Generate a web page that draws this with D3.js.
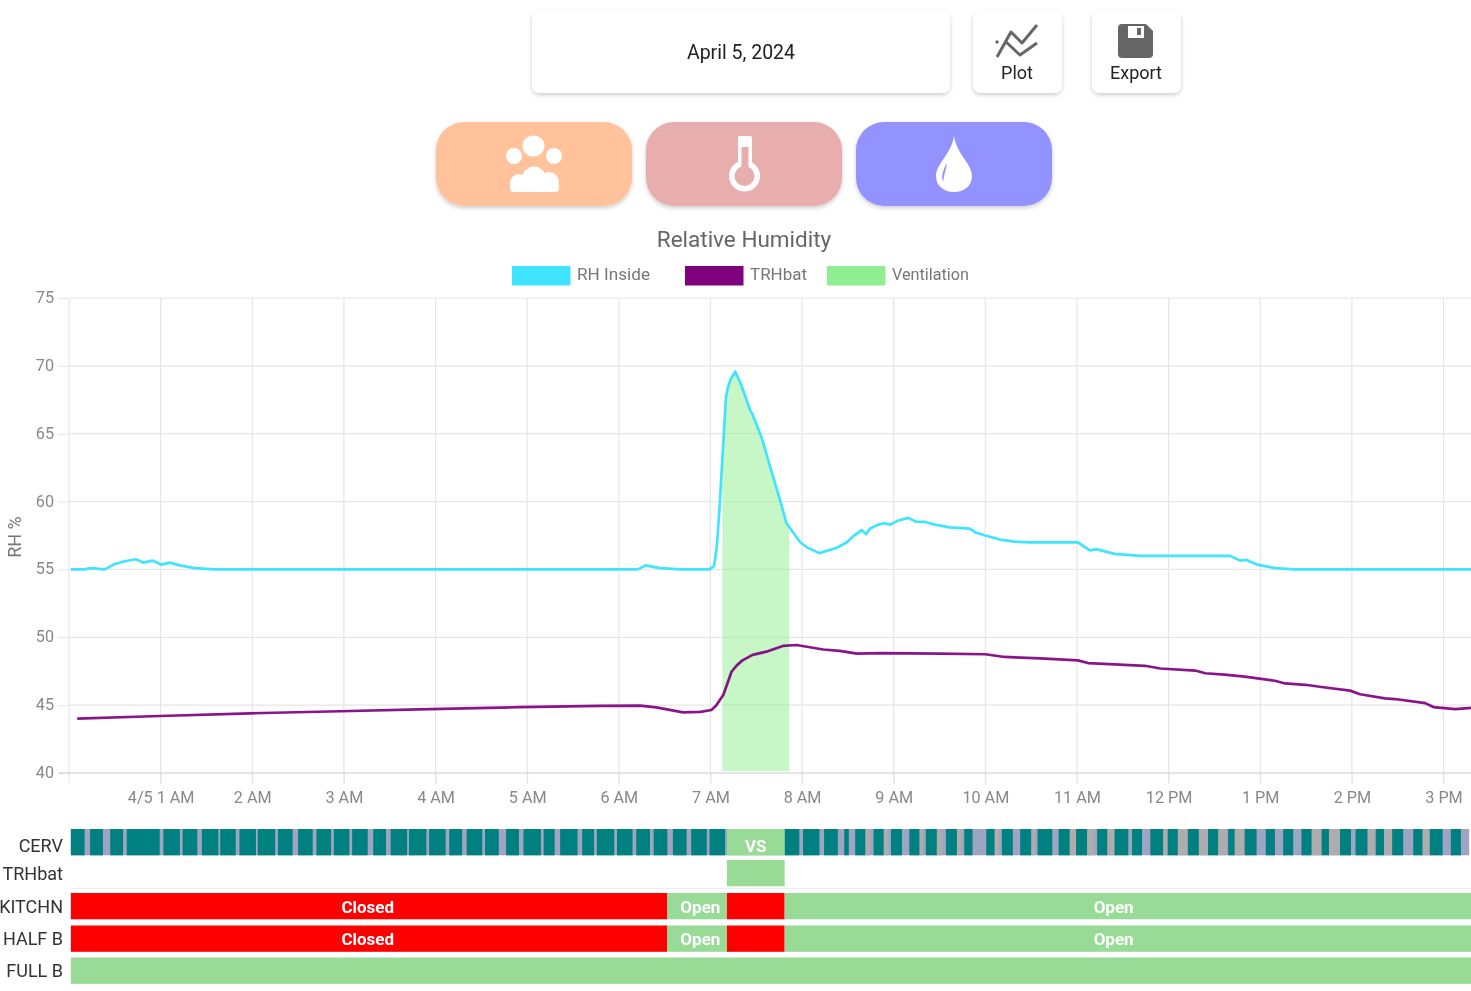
<!DOCTYPE html>
<html><head><meta charset="utf-8">
<script src="https://cdn.jsdelivr.net/npm/d3@7"></script>
<style>
html,body{margin:0;padding:0;background:#fff;overflow:hidden}
svg{display:block;font-family:Roboto,sans-serif;filter:blur(0.45px)}
</style></head><body>
<svg id="c" width="1471" height="991"></svg>
<script>
const dateLabel = "April 5, 2024";
const chartTitle = "Relative Humidity";
const yTicks = [40,45,50,55,60,65,70,75];
const xTickHours = [1,2,3,4,5,6,7,8,9,10,11,12,13,14,15];
const xTickLabels = ["4/5 1 AM","2 AM","3 AM","4 AM","5 AM","6 AM","7 AM","8 AM","9 AM","10 AM","11 AM","12 PM","1 PM","2 PM","3 PM"];

const rhHours = [0.02,0.17,0.23,0.39,0.50,0.61,0.73,0.81,0.91,1.01,1.10,1.21,1.37,1.59,6.21,6.29,6.45,6.67,6.99,7.04,7.07,7.10,7.14,7.17,7.19,7.22,7.27,7.33,7.43,7.46,7.56,7.65,7.76,7.83,7.98,8.06,8.19,8.38,8.49,8.55,8.65,8.70,8.74,8.83,8.89,8.96,9.05,9.16,9.25,9.34,9.45,9.61,9.83,9.90,10.0,10.16,10.32,10.49,11.01,11.14,11.21,11.41,11.69,12.67,12.78,12.85,12.97,13.16,13.38,15.30];
const rhValues = [55,55,55.1,55,55.4,55.6,55.75,55.5,55.65,55.35,55.5,55.3,55.1,55,55,55.3,55.1,55,55,55.25,56.7,59.6,64.3,67.7,68.4,69,69.57,68.7,66.8,66.4,64.7,62.6,60.1,58.4,57.0,56.6,56.2,56.6,57,57.4,57.9,57.6,58,58.3,58.4,58.3,58.6,58.8,58.5,58.5,58.3,58.1,58,57.7,57.5,57.2,57.05,57,57,56.4,56.5,56.15,56,56,55.65,55.7,55.35,55.1,55,55];

const trhHours = [0.09,0.99,1.98,2.96,3.94,4.92,5.79,6.23,6.41,6.70,6.89,7.01,7.06,7.14,7.18,7.23,7.29,7.35,7.46,7.61,7.79,7.94,8.23,8.41,8.60,8.85,9.50,10.0,10.21,10.60,11.01,11.12,11.41,11.74,11.91,12.29,12.40,12.61,12.83,13.16,13.27,13.49,13.71,13.98,14.09,14.36,14.47,14.80,14.89,15.13,15.30];
const trhValues = [44,44.2,44.4,44.55,44.7,44.85,44.95,44.96,44.84,44.47,44.5,44.64,44.95,45.75,46.5,47.46,47.95,48.3,48.7,48.94,49.36,49.43,49.1,49,48.8,48.84,48.8,48.75,48.55,48.45,48.3,48.1,48,47.9,47.7,47.55,47.35,47.25,47.1,46.8,46.6,46.5,46.3,46.07,45.8,45.5,45.45,45.15,44.86,44.7,44.8];

const ventHours = [7.13,7.14,7.17,7.19,7.22,7.27,7.33,7.43,7.46,7.56,7.65,7.76,7.83,7.86];
const ventValues = [62.4,64.3,67.7,68.4,69,69.57,68.7,66.8,66.4,64.7,62.6,60.1,58.4,58.05];
const ventFloor = 40.15;

const cervSpan = [0.02,15.28];
const cervRun = [[0.02,0.17],[0.23,0.37],[0.45,0.59],[0.63,0.99],[1.03,1.21],[1.24,1.40],[1.45,1.63],[1.65,1.82],[1.86,2.04],[2.06,2.25],[2.28,2.44],[2.50,2.66],[2.70,2.86],[2.89,3.06],[3.09,3.26],[3.32,3.46],[3.51,3.69],[3.71,3.90],[3.93,4.11],[4.15,4.29],[4.34,4.51],[4.54,4.69],[4.77,4.91],[4.96,5.15],[5.18,5.30],[5.36,5.55],[5.60,5.73],[5.76,5.95],[5.98,6.15],[6.19,6.34],[6.38,6.53],[6.59,6.74],[6.79,6.96],[6.99,7.16],[7.81,7.97],[8.01,8.19],[8.24,8.39],[8.46,8.51],[8.58,8.69],[8.78,8.89],[8.97,9.09],[9.17,9.28],[9.35,9.47],[9.57,9.69],[9.77,9.86],[10.01,10.10],[10.18,10.30],[10.38,10.50],[10.57,10.73],[10.80,10.92],[10.99,11.11],[11.22,11.33],[11.41,11.56],[11.60,11.71],[11.80,11.94],[11.99,12.10],[12.21,12.33],[12.43,12.54],[12.65,12.72],[12.83,12.96],[13.06,13.16],[13.25,13.36],[13.45,13.56],[13.67,13.75],[13.87,13.99],[14.04,14.17],[14.26,14.35],[14.44,14.56],[14.67,14.77],[14.85,14.99],[15.08,15.19]];
const cervIdle = [[8.69,8.74],[8.89,8.94],[9.28,9.32],[9.47,9.53],[9.69,9.74],[10.10,10.15],[10.50,10.54],[10.92,10.99],[11.11,11.19],[11.33,11.41],[11.94,11.99],[12.10,12.21],[12.33,12.43],[12.54,12.63],[12.72,12.83],[13.56,13.67],[13.75,13.87],[14.17,14.26],[14.35,14.44],[14.77,14.85]];
const cervVS = [7.18,7.81];
const trhbatOn = [7.18,7.81];
const doorBreaks = [0.02,6.53,7.18,7.81,15.30];
const doorStates = ["Closed","Open","","Open"];
const doorColors = ["red","green","red","green"];
const doorLabelHours = [3.26,6.89,7.5,11.40];
const fullBSpan = [0.02,15.30];
const rowNames = ["CERV","TRHbat","KITCHN","HALF B","FULL B"];
const legendNames = ["RH Inside","TRHbat","Ventilation"];

const svg = d3.select("#c");
const GREEN="#98db96", CYAN="#40e4ff", PURPLE="#800080", LGREEN="#90ee90", GREY="#666";
const x = d3.scaleLinear().domain([0,15.3]).range([69,1471]);
const y = d3.scaleLinear().domain([40,75]).range([773,298]);

const defs = svg.append("defs");
const f = defs.append("filter").attr("id","sh").attr("x","-20%").attr("y","-20%").attr("width","140%").attr("height","150%");
f.append("feDropShadow").attr("dx",0).attr("dy",2).attr("stdDeviation",2).attr("flood-color","#000").attr("flood-opacity",.2);

// ---- top cards
function card(x0,x1,y0,y1,r,fill){svg.append("rect").attr("x",x0).attr("y",y0).attr("width",x1-x0).attr("height",y1-y0).attr("rx",r).attr("fill",fill).attr("filter","url(#sh)");}
card(532,950,11,93,8,"#fff"); card(973,1062,11,93,8,"#fff"); card(1092,1181,11,93,8,"#fff");
const txt=(t,px,py,size,fill,anchor="middle",weight=400)=>svg.append("text").attr("x",px).attr("y",py).attr("font-size",size).attr("fill",fill).attr("text-anchor",anchor).attr("font-weight",weight).text(t);
txt(dateLabel,741,59,19.5,"#222");
txt("Plot",1017,78.5,18,"#222");
txt("Export",1136,78.5,18,"#222");
// plot icon
const ic=svg.append("g").attr("fill","none").attr("stroke",GREY).attr("stroke-width",3).attr("stroke-linejoin","round");
ic.append("path").attr("d","M997 57L1011 32L1022 43L1037 25");
ic.append("path").attr("d","M1006 42L1020 55L1037 43");
svg.append("circle").attr("cx",997).attr("cy",42).attr("r",1.7).attr("fill",GREY);
// export icon
svg.append("path").attr("d","M1122 24H1146L1153 31V54A4 4 0 0 1 1149 58H1122A4 4 0 0 1 1118 54V28A4 4 0 0 1 1122 24Z").attr("fill",GREY);
svg.append("rect").attr("x",1128).attr("y",26).attr("width",16).attr("height",12).attr("fill","#fff");
svg.append("rect").attr("x",1137).attr("y",28).attr("width",4).attr("height",7).attr("fill",GREY);
// coloured buttons
card(436,632,122,206,28,"#ffc29b"); card(646,842,122,206,28,"#e8adad"); card(856,1052,122,206,28,"#9393ff");
const w=svg.append("g").attr("fill","#fff");
w.append("ellipse").attr("cx",533.5).attr("cy",146).attr("rx",11).attr("ry",10.5);
w.append("circle").attr("cx",514).attr("cy",156).attr("r",8);
w.append("circle").attr("cx",554).attr("cy",156).attr("r",8);
w.append("circle").attr("cx",534).attr("cy",178).attr("r",11.5);
w.append("circle").attr("cx",519).attr("cy",183).attr("r",9);
w.append("circle").attr("cx",549).attr("cy",182).attr("r",10);
w.append("rect").attr("x",510).attr("y",183).attr("width",49).attr("height",9).attr("rx",4);
// thermometer
w.append("rect").attr("x",738).attr("y",136).attr("width",14).attr("height",36).attr("rx",1.5);
w.append("circle").attr("cx",744.5).attr("cy",176).attr("r",15.5);
svg.append("rect").attr("x",741.5).attr("y",147).attr("width",7).attr("height",26).attr("fill","#e8adad");
svg.append("circle").attr("cx",744.5).attr("cy",176).attr("r",10).attr("fill","#e8adad");
// drop
w.append("path").attr("d","M954 136C956 153 972 164 972 176C972 186 964 192 954 192C944 192 936 186 936 176C936 164 952 153 954 136Z");
svg.append("path").attr("d","M947 163C943 170 941 176 943 182C944 175 946 170 947 163Z").attr("fill","#9393ff");

// ---- title + legend
txt(chartTitle,744,247,22.5,GREY);
const legendX=[512,685,827], legendColors=[CYAN,PURPLE,LGREEN], legendLen=[73,57,77];
legendNames.forEach((n,i)=>{
  svg.append("rect").attr("x",legendX[i]).attr("y",266).attr("width",58.5).attr("height",19.5).attr("fill",legendColors[i]);
  txt(n,legendX[i]+65,279.5,16.5,"#777","start").attr("textLength",legendLen[i]).attr("lengthAdjust","spacingAndGlyphs");
});

// ---- axes
const yAxis=d3.axisLeft(y).tickValues(yTicks).tickSize(11).tickPadding(4).tickFormat(d3.format("d"));
const gy=svg.append("g").attr("transform","translate(69,0)").call(yAxis);
const xAxis=d3.axisBottom(x).tickValues(xTickHours).tickSize(11).tickPadding(7).tickFormat((d,i)=>xTickLabels[i]);
const gx=svg.append("g").attr("transform","translate(0,773)").call(xAxis);
[gy,gx].forEach(g=>{g.select(".domain").remove();g.selectAll("line").attr("stroke","#e4e4e4");g.selectAll("text").attr("fill","#888").attr("font-size",16.2).attr("font-family","Roboto");});
gy.selectAll("text").attr("dy","0.28em");
const grid=svg.append("g").attr("stroke","#e6e6e6").attr("stroke-width",1.2);
yTicks.slice(1).forEach(v=>grid.append("line").attr("x1",69).attr("x2",1471).attr("y1",y(v)).attr("y2",y(v)));
[0,...xTickHours].forEach(h=>grid.append("line").attr("x1",x(h)).attr("x2",x(h)).attr("y1",298).attr("y2",783));
svg.append("line").attr("x1",59).attr("x2",1471).attr("y1",y(40)).attr("y2",y(40)).attr("stroke","#ccc").attr("stroke-width",1.2);
svg.append("text").attr("transform","translate(21,537) rotate(-90)").attr("text-anchor","middle").attr("font-size",18).attr("fill","#777").text("RH %");

// ---- series
const area=d3.area().x((d,i)=>x(ventHours[i])).y0(y(ventFloor)).y1(d=>y(d));
svg.append("path").attr("d",area(ventValues)).attr("fill",LGREEN).attr("fill-opacity",.5);
const line=hs=>d3.line().x((d,i)=>x(hs[i])).y(d=>y(d));
svg.append("path").attr("d",line(rhHours)(rhValues)).attr("fill","none").attr("stroke",CYAN).attr("stroke-width",2.7).attr("stroke-linejoin","round");
svg.append("path").attr("d",line(trhHours)(trhValues)).attr("fill","none").attr("stroke",PURPLE).attr("stroke-width",2.7).attr("stroke-opacity",.92).attr("stroke-linejoin","round");

// ---- status rows
const rowTop=[829,860,893,925.5,957.5], rowH=26.3;
const rowCenter=[846,874,906.5,938.5,971];
rowNames.forEach((n,i)=>txt(n,63,rowCenter[i]+6,18,"#333","end"));
const bar=(a,b,row,color)=>svg.append("rect").attr("x",x(a)).attr("y",rowTop[row]).attr("width",x(b)-x(a)).attr("height",rowH).attr("fill",color);
svg.append("line").attr("x1",x(0.02)).attr("x2",1471).attr("y1",888.5).attr("y2",888.5).attr("stroke","#eee");
bar(cervSpan[0],cervSpan[1],0,"#9ea5c3");
cervIdle.forEach(s=>bar(s[0],s[1],0,"#adadad"));
cervRun.forEach(s=>bar(s[0],s[1],0,"#008080"));
bar(cervVS[0],cervVS[1],0,GREEN);
bar(trhbatOn[0],trhbatOn[1],1,GREEN);
const lab=(t,h,row)=>txt(t,x(h),rowCenter[row]+6,17,"#fff","middle",700);
lab("VS",(cervVS[0]+cervVS[1])/2,0);
[2,3].forEach(r=>{
  doorStates.forEach((s,i)=>{
    bar(doorBreaks[i],doorBreaks[i+1],r,doorColors[i]==="red"?"#ff0000":GREEN);
    if(s) lab(s,doorLabelHours[i],r);
  });
});
bar(fullBSpan[0],fullBSpan[1],4,GREEN);
</script>
</body></html>
